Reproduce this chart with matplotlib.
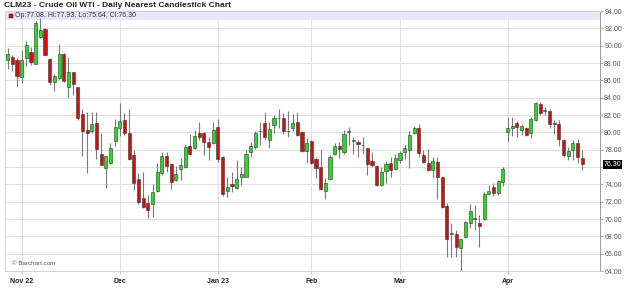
import numpy as np
import pandas as pd
import matplotlib
matplotlib.use('Agg')
import matplotlib.pyplot as plt
import matplotlib.transforms as mtransforms

plt.rcParams['font.family'] = ['Liberation Sans', 'DejaVu Sans']

# ── Data ───────────────────────────────────────────────────────────────────────

HOLIDAYS = ['2022-11-24', '2022-12-26', '2023-01-02', '2023-01-16',
            '2023-02-20', '2023-04-07']

OPEN = [
    88.31, 88.70, 88.40,
    86.40, 88.60, 89.30, 87.90, 91.00, 91.90, 88.50, 85.85, 86.30, 89.00, 85.23,
    86.96, 85.23, 82.10, 80.30, 80.20, 81.10, 77.54, 75.92, 76.50, 79.00,
    80.50, 81.42, 79.96, 77.40, 74.60, 72.40, 71.90, 71.73, 73.27, 75.27, 77.30,
    76.30, 74.50, 75.77, 75.96, 78.42, 78.15, 79.96, 79.96, 78.85, 78.73,
    80.58, 77.19, 73.27, 74.00, 73.54, 74.88, 74.88, 77.77, 78.27, 80.10, 81.04,
    79.10, 80.85, 81.60, 81.60, 80.20, 80.46, 81.23, 80.07, 77.88,
    79.00, 76.88, 75.96, 73.27, 74.58, 77.50, 78.46, 77.77, 80.00, 79.05, 78.88,
    78.55, 78.15, 76.70, 76.10, 73.92, 75.58, 76.42, 75.73,
    76.80, 77.77, 77.96, 79.90, 80.54, 77.35, 76.50, 75.65, 76.62, 74.80, 71.54,
    68.30, 68.27, 66.62, 67.88, 69.50, 70.10, 69.50, 69.96, 72.85, 73.73, 72.96,
    74.30,
    80.08, 80.46, 81.04, 80.27, 80.46, 79.88, 81.42, 83.27, 82.50, 82.50, 81.10,
    80.96, 79.10, 77.27, 77.96, 78.73, 77.08,
]
HIGH = [
    89.77, 88.90, 88.60,
    89.46, 90.50, 89.85, 92.90, 93.15, 92.00, 88.55, 86.70, 90.15, 89.10, 88.70,
    87.00, 85.25, 82.65, 82.30, 82.30, 82.30, 79.96, 77.30, 78.80, 81.50,
    83.40, 82.27, 82.65, 78.00, 75.27, 75.46, 72.77, 74.04, 76.42, 77.77, 77.77,
    76.42, 76.10, 77.00, 78.70, 79.80, 80.27, 81.20, 80.00, 79.50, 81.23,
    81.50, 77.25, 74.88, 75.46, 76.80, 75.96, 77.96, 78.92, 80.20, 81.23, 82.38,
    81.23, 82.00, 82.65, 82.20, 82.50, 82.10, 82.38, 80.20, 79.30,
    79.10, 77.19, 77.96, 74.70, 77.38, 78.73, 78.92, 80.27, 80.65, 79.42, 79.10,
    79.42, 78.20, 77.77, 76.20, 75.96, 76.73, 77.19, 77.50,
    77.88, 78.65, 80.10, 80.73, 80.96, 77.96, 78.04, 77.12, 77.12, 74.88, 71.88,
    69.50, 68.73, 67.70, 69.75, 71.73, 71.60, 70.46, 73.07, 73.92, 74.20, 74.50,
    75.96,
    81.73, 81.80, 81.30, 80.92, 80.65, 81.80, 83.54, 83.54, 82.96, 82.65, 81.42,
    81.42, 79.19, 78.27, 79.10, 79.19, 77.93,
]
LOW = [
    87.27, 87.10, 85.35,
    85.70, 87.65, 87.77, 87.85, 90.90, 88.80, 85.50, 84.75, 86.10, 85.85, 84.10,
    84.27, 81.40, 77.30, 75.35, 79.96, 76.90, 76.20, 73.60, 76.30, 78.40,
    79.60, 79.70, 76.80, 73.40, 71.73, 71.23, 70.08, 70.27, 73.15, 75.08, 75.46,
    73.42, 74.40, 74.50, 75.85, 77.40, 78.04, 79.10, 77.40, 76.80, 78.60,
    76.60, 72.70, 72.50, 73.15, 73.42, 73.92, 74.81, 77.12, 78.04, 78.54, 79.10,
    78.15, 79.96, 80.46, 79.80, 79.50, 80.20, 79.58, 77.77, 76.50,
    76.35, 74.70, 73.35, 72.27, 74.50, 77.38, 77.00, 77.50, 78.54, 77.50, 77.20,
    77.50, 75.08, 75.96, 73.80, 73.80, 74.10, 74.88, 75.65,
    76.42, 76.90, 75.90, 79.80, 77.12, 76.42, 75.58, 74.77, 72.27, 71.23, 65.65,
    65.65, 65.58, 64.04, 67.77, 68.92, 68.73, 66.80, 69.88, 72.77, 72.65, 72.77,
    73.80,
    78.92, 79.58, 79.50, 79.70, 79.58, 79.30, 81.35, 82.00, 82.00, 80.46, 79.80,
    78.42, 77.19, 76.80, 76.80, 76.42, 75.64,
]
CLOSE = [
    89.08, 87.90, 86.50,
    88.35, 90.04, 88.15, 92.65, 91.80, 88.90, 85.85, 86.45, 89.00, 85.90, 86.96,
    85.54, 81.60, 80.10, 79.90, 81.00, 78.04, 76.23, 77.27, 78.23, 80.60,
    81.30, 79.96, 76.88, 74.20, 71.92, 71.42, 71.04, 73.15, 75.38, 77.27, 76.10,
    74.30, 75.20, 76.23, 78.27, 77.46, 79.58, 79.42, 78.92, 78.35, 80.27,
    76.88, 72.85, 73.65, 73.77, 74.60, 75.15, 77.46, 78.42, 79.88, 80.18, 79.42,
    80.35, 81.65, 81.65, 80.20, 80.15, 81.10, 79.70, 77.88, 78.80,
    76.42, 75.85, 73.42, 74.10, 77.19, 78.46, 78.04, 79.80, 80.19, 79.06, 78.60,
    78.49, 76.35, 76.20, 73.92, 75.46, 76.35, 75.65, 77.00,
    77.65, 78.15, 79.70, 80.46, 77.65, 76.62, 75.65, 76.70, 74.80, 71.35, 67.65,
    68.35, 66.73, 67.65, 69.70, 70.92, 69.96, 69.20, 72.85, 73.23, 73.03, 74.42,
    75.73,
    80.46, 80.73, 80.65, 80.73, 79.70, 81.50, 83.35, 82.19, 82.52, 80.92, 80.92,
    79.19, 77.38, 77.88, 78.80, 77.12, 76.30,
]

TITLE = 'CLM23 - Crude Oil WTI - Daily Nearest Candlestick Chart'
LEGEND = 'Op:77.08, Hi:77.93, Lo:75.64, Cl:76.30'
MONTH_LABELS = ['Nov 22', 'Dec', 'Jan 23', 'Feb', 'Mar', 'Apr']
Y_TICKS = np.arange(64, 94.1, 2)

# ── Build figure ───────────────────────────────────────────────────────────────

dates = pd.bdate_range('2022-10-27', '2023-04-26')
dates = dates[~dates.isin(pd.to_datetime(HOLIDAYS))]
o, h, l, c = (np.array(a) for a in (OPEN, HIGH, LOW, CLOSE))
x = np.arange(len(dates))
assert len(x) == len(o) == len(h) == len(l) == len(c)

up = c >= o
GREEN = '#22dd22'
RED = '#cc1111'

W, H = 624, 293
fig = plt.figure(figsize=(W / 100, H / 100), dpi=100)
fig.patch.set_facecolor('white')
ax = fig.add_axes([5 / W, 1 - 271 / H, 595 / W, 260 / H])

# grid
for yv in Y_TICKS:
    ax.axhline(yv, color='#dedede', lw=0.7, zorder=0)
month_idx = [i for i in range(1, len(dates)) if dates[i].month != dates[i - 1].month]
for mi in month_idx:
    ax.axvline(mi, color='#dedede', lw=0.7, zorder=0)

# lavender info band
ax.axhspan(92.95, 94, color='#e6e6f8', zorder=0.5, lw=0)

# wicks and bodies
ax.vlines(x, l, h, color='#7a7a7a', lw=0.8, zorder=2)
body = np.abs(c - o)
body = np.where(body < 0.05, 0.05, body)
bottom = np.minimum(o, c)
ax.bar(x, body, bottom=bottom, width=0.68,
       color=np.where(up, GREEN, RED), edgecolor='#333333', linewidth=0.4, zorder=3)

ax.set_xlim(-0.58, 126.8)
ax.set_ylim(64, 94)

# last price replaces the nearby tick label
last = c[-1]
ax.yaxis.tick_right()
ax.set_yticks(Y_TICKS)
ax.set_yticklabels(['' if abs(v - last) < 1 else f'{v:.2f}' for v in Y_TICKS])
ax.tick_params(axis='y', length=2, width=0.5, color='#888888', labelsize=5,
               labelcolor='#555555', pad=1)
ax.set_xticks(month_idx)
ax.set_xticklabels(MONTH_LABELS)
ax.tick_params(axis='x', length=2, width=0.5, color='#aaaaaa', labelsize=5,
               labelcolor='#222222', pad=3)
for lab in ax.get_xticklabels():
    lab.set_fontweight('bold')

for side in ('left', 'top', 'bottom'):
    ax.spines[side].set_color('#cccccc')
    ax.spines[side].set_linewidth(0.6)
ax.spines['right'].set_color('#999999')
ax.spines['right'].set_linewidth(0.7)

# last price tag
trans = mtransforms.blended_transform_factory(ax.transAxes, ax.transData)
ax.text(1.006, last, f'{last:.2f}', transform=trans, ha='left', va='center',
        fontsize=5, color='white', zorder=5,
        bbox=dict(boxstyle='square,pad=0.15', facecolor='black', edgecolor='none'))

# legend line
ax.plot([0.0095], [93.48], marker='s', markersize=3.2, color=RED,
        markeredgecolor='#550000', markeredgewidth=0.3,
        transform=trans, clip_on=False, zorder=6)
ax.text(0.016, 93.48, LEGEND, transform=trans, ha='left', va='center',
        fontsize=5, color='#333333', zorder=6)

ax.text(0.012, 64.9, '\u00a9 Barchart.com', transform=trans, ha='left', va='center',
        fontsize=4.5, color='#555555')

fig.text(4 / W, 1 - 5.5 / H, TITLE, ha='left', va='center', fontsize=6,
         fontweight='bold', color='#222222')

fig.savefig('out.png', dpi=100, facecolor='white')
